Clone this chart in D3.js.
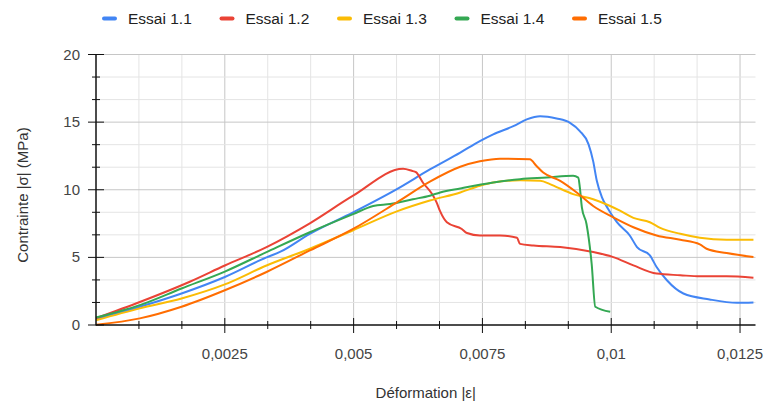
<!DOCTYPE html>
<html>
<head>
<meta charset="utf-8">
<script src="https://cdn.jsdelivr.net/npm/d3@7"></script>
<style>
  body { margin: 0; background: #fff; }
  svg text { font-family: Arial, "Liberation Sans", sans-serif; }
</style>
</head>
<body>
<div id="chart"></div>
<script>
// series names and colours
const seriesNames = ['Essai 1.1', 'Essai 1.2', 'Essai 1.3', 'Essai 1.4', 'Essai 1.5'];
const seriesColors = ['#4285f4', '#ea4335', '#fbbc04', '#34a853', '#ff6d01'];

// [deformation, contrainte (MPa)]
const essai11 = [[0,0.45],[0.00085,1.35],[0.00166,2.33],[0.0025,3.55],[0.00331,5.0],[0.00357,5.4],[0.00415,6.74],
  [0.00499,8.33],[0.00584,10.05],[0.00648,11.5],[0.00707,12.75],[0.00745,13.6],[0.00771,14.1],[0.0081,14.7],
  [0.00836,15.2],[0.00862,15.44],[0.00894,15.27],[0.0092,14.95],[0.00939,14.34],[0.00956,13.36],[0.00965,12.1],
  [0.00972,10.66],[0.00982,9.43],[0.00994,8.58],[0.01011,7.6],[0.01036,6.62],[0.0105,5.76],[0.01075,5.15],
  [0.01088,4.29],[0.01108,3.31],[0.0114,2.33],[0.01191,1.89],[0.01244,1.64],[0.01276,1.67]];

const essai12 = [[0,0.5],[0.00085,1.7],[0.00182,3.2],[0.0025,4.4],[0.00331,5.76],[0.00415,7.52],[0.00499,9.56],
  [0.00596,11.55],[0.00613,11.4],[0.00621,11.3],[0.00635,10.5],[0.00652,9.7],[0.00661,9.07],[0.00668,8.4],
  [0.00681,7.6],[0.0071,7.1],[0.0072,6.8],[0.00745,6.62],[0.00784,6.62],[0.00817,6.45],[0.00823,6.0],
  [0.00849,5.88],[0.00901,5.76],[0.00965,5.39],[0.01004,5.02],[0.01043,4.41],[0.01088,3.8],[0.01134,3.68],
  [0.01172,3.6],[0.01224,3.6],[0.01276,3.5]];

const essai13 = [[0,0.35],[0.00085,1.23],[0.00166,1.96],[0.0025,3.0],[0.00331,4.4],[0.00415,5.64],[0.00499,7.0],
  [0.00584,8.4],[0.00648,9.2],[0.00707,9.8],[0.00745,10.3],[0.00771,10.54],[0.00823,10.7],[0.00862,10.66],
  [0.00881,10.42],[0.00894,10.2],[0.00926,9.68],[0.00965,9.3],[0.00998,8.8],[0.01017,8.45],[0.01043,7.92],
  [0.01075,7.6],[0.01095,7.18],[0.01134,6.74],[0.01172,6.45],[0.01224,6.3],[0.01276,6.3]];

const essai14 = [[0,0.55],[0.00085,1.47],[0.00166,2.7],[0.0025,3.95],[0.00331,5.39],[0.00415,6.86],[0.00499,8.2],
  [0.00538,8.8],[0.00571,8.95],[0.00615,9.3],[0.00648,9.56],[0.00668,9.8],[0.00707,10.1],[0.00771,10.54],
  [0.00823,10.78],[0.00875,10.9],[0.00926,11.03],[0.00936,10.9],[0.00939,10.2],[0.00943,8.7],[0.00952,7.47],
  [0.00962,4.53],[0.00969,1.35],[0.00998,0.98]];

const essai15 = [[0,0.02],[0.00085,0.49],[0.00166,1.35],[0.0025,2.57],[0.00331,3.92],[0.00415,5.51],[0.00499,7.1],
  [0.00584,9.07],[0.00648,10.6],[0.00707,11.7],[0.00745,12.1],[0.00784,12.3],[0.00842,12.25],[0.00855,11.76],
  [0.00868,11.27],[0.00901,10.66],[0.00933,9.8],[0.00965,8.8],[0.01004,7.96],[0.01043,7.23],[0.01088,6.62],
  [0.01134,6.3],[0.01172,5.96],[0.01185,5.64],[0.01224,5.32],[0.01276,5.02]];

const allSeries = [essai11, essai12, essai13, essai14, essai15];

// axis ticks
const xTicks = [0.0025, 0.005, 0.0075, 0.01, 0.0125];
const xTickLabels = ['0,0025', '0,005', '0,0075', '0,01', '0,0125'];
const yTicks = [0, 5, 10, 15, 20];

var width = 766, height = 403;
var plot = {left: 96, right: 755.5, top: 54.5, bottom: 325};

var svg = d3.select('#chart').append('svg')
  .attr('width', width)
  .attr('height', height);

var x = d3.scaleLinear().domain([0, 0.0128]).range([plot.left, plot.right]);
var y = d3.scaleLinear().domain([0, 20]).range([plot.bottom, plot.top]);

// minor steps: 3 per major interval
var xStep = 0.0025 / 3, yStep = 5 / 3;
var xMinor = d3.range(1, 16).map(i => i * xStep).filter(v => v <= 0.0128);
var yMinor = d3.range(1, 13).map(i => i * yStep);

// grid
var grid = svg.append('g');
grid.selectAll('.vx').data(xMinor).enter().append('line')
  .attr('x1', d => x(d)).attr('x2', d => x(d))
  .attr('y1', plot.top).attr('y2', plot.bottom)
  .attr('stroke', (d, i) => (i % 3 === 2) ? '#c6c6c6' : '#e4e4e4')
  .attr('stroke-width', 1);
grid.selectAll('.hy').data(yMinor).enter().append('line')
  .attr('x1', plot.left).attr('x2', plot.right)
  .attr('y1', d => y(d)).attr('y2', d => y(d))
  .attr('stroke', (d, i) => (i % 3 === 2) ? '#c6c6c6' : '#e4e4e4')
  .attr('stroke-width', 1);

// curves
var line = d3.line()
  .x(d => x(d[0]))
  .y(d => y(d[1]))
  .curve(d3.curveMonotoneX);

svg.append('g').selectAll('path')
  .data(allSeries)
  .enter().append('path')
  .attr('d', line)
  .attr('fill', 'none')
  .attr('stroke', (d, i) => seriesColors[i])
  .attr('stroke-width', 2)
  .attr('stroke-linejoin', 'round');

// axes lines + ticks
var axes = svg.append('g').attr('stroke', '#111');
axes.append('line')
  .attr('x1', plot.left).attr('x2', plot.left)
  .attr('y1', plot.top).attr('y2', plot.bottom + 0.5)
  .attr('stroke-width', 1.5);
axes.append('line')
  .attr('x1', plot.left).attr('x2', plot.right)
  .attr('y1', plot.bottom).attr('y2', plot.bottom)
  .attr('stroke-width', 1.5);

axes.selectAll('.xt').data(xMinor).enter().append('line')
  .attr('x1', d => x(d)).attr('x2', d => x(d))
  .attr('y1', (d, i) => (i % 3 === 2) ? plot.bottom - 7 : plot.bottom - 4)
  .attr('y2', (d, i) => (i % 3 === 2) ? plot.bottom + 8 : plot.bottom + 4)
  .attr('stroke-width', 1);
axes.selectAll('.yt').data(yMinor).enter().append('line')
  .attr('y1', d => y(d)).attr('y2', d => y(d))
  .attr('x1', (d, i) => (i % 3 === 2) ? plot.left - 8 : plot.left - 4)
  .attr('x2', (d, i) => (i % 3 === 2) ? plot.left + 8 : plot.left + 4)
  .attr('stroke-width', 1);
axes.append('line')
  .attr('x1', plot.left - 8).attr('x2', plot.left + 8)
  .attr('y1', plot.bottom).attr('y2', plot.bottom)
  .attr('stroke-width', 1);

// tick labels
svg.selectAll('.xl').data(xTicks).enter().append('text')
  .attr('x', d => x(d))
  .attr('y', 359)
  .attr('text-anchor', 'middle')
  .style('font-size', '15px')
  .style('fill', '#444')
  .text((d, i) => xTickLabels[i]);

svg.selectAll('.yl').data(yTicks).enter().append('text')
  .attr('x', 80)
  .attr('y', d => y(d) + 5)
  .attr('text-anchor', 'end')
  .style('font-size', '15px')
  .style('fill', '#444')
  .text(d => d);

// axis titles
svg.append('text')
  .attr('x', (plot.left + plot.right) / 2)
  .attr('y', 398)
  .attr('text-anchor', 'middle')
  .style('font-size', '15px')
  .style('fill', '#333')
  .text('Déformation |ε|');

svg.append('text')
  .attr('transform', 'translate(28,195) rotate(-90)')
  .attr('text-anchor', 'middle')
  .style('font-size', '15px')
  .style('fill', '#333')
  .text('Contrainte |σ| (MPa)');

// legend
var legend = svg.append('g').selectAll('g')
  .data(seriesNames)
  .enter().append('g')
  .attr('transform', (d, i) => 'translate(' + (102 + i * 117.5) + ',0)');
legend.append('rect')
  .attr('x', 0).attr('y', 16.5)
  .attr('width', 15).attr('height', 4).attr('rx', 2)
  .attr('fill', (d, i) => seriesColors[i]);
legend.append('text')
  .attr('x', 26).attr('y', 24)
  .style('font-size', '15.5px')
  .style('fill', '#222')
  .text(d => d);
</script>
</body>
</html>
